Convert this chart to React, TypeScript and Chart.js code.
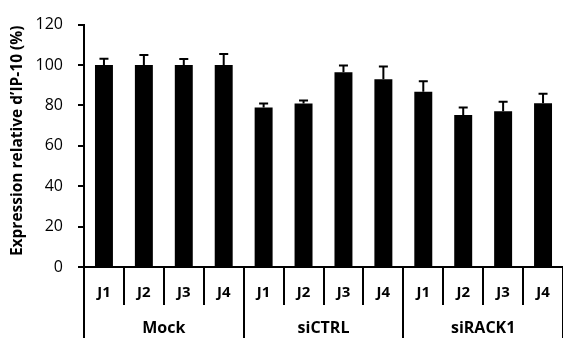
import React, { useEffect, useRef } from "react";
import { Chart, registerables } from "chart.js";

Chart.register(...registerables);

const categories = ["J1", "J2", "J3", "J4", "J1", "J2", "J3", "J4", "J1", "J2", "J3", "J4"];
const groups = ["Mock", "siCTRL", "siRACK1"];
const groupSize = 4;
const values = [100, 100, 100, 100, 79, 81, 96.4, 92.9, 86.7, 75.3, 77.1, 81.1];
const errors = [3.1, 5, 3, 5.5, 2, 1.4, 3.4, 6.4, 5.3, 3.6, 4.7, 4.7];
const yMin = 0;
const yMax = 120;
const yStep = 20;
const yTitle = "Expression relative d\u2019IP-10 (%)";

const FONT = "'Open Sans', 'Liberation Sans', sans-serif";

const overlayPlugin = {
  id: "overlay",
  afterDraw(chart: any) {
    const ctx = chart.ctx as CanvasRenderingContext2D;
    const xs = chart.scales.x;
    const ys = chart.scales.y;
    const area = chart.chartArea;
    ctx.save();
    // error bars
    ctx.strokeStyle = "#000";
    ctx.lineWidth = 2;
    values.forEach((v, i) => {
      const px = xs.getPixelForValue(i);
      const yb = ys.getPixelForValue(v);
      const yt = ys.getPixelForValue(v + errors[i]);
      ctx.beginPath();
      ctx.moveTo(px, yb);
      ctx.lineTo(px, yt);
      ctx.moveTo(px - 4.5, yt);
      ctx.lineTo(px + 4.5, yt);
      ctx.stroke();
    });
    // separators
    const step = xs.getPixelForValue(1) - xs.getPixelForValue(0);
    for (let k = 0; k <= categories.length; k++) {
      const bx = Math.round(xs.getPixelForValue(k) - step / 2);
      const bottom = k % groupSize === 0 ? chart.height : area.bottom + 38;
      ctx.beginPath();
      ctx.moveTo(bx, area.bottom);
      ctx.lineTo(bx, bottom);
      ctx.stroke();
    }
    // category labels
    ctx.fillStyle = "#000";
    ctx.textAlign = "center";
    ctx.textBaseline = "middle";
    ctx.font = `bold 15px ${FONT}`;
    categories.forEach((c, i) => {
      ctx.fillText(c, xs.getPixelForValue(i), area.bottom + 26);
    });
    ctx.font = `bold 16px ${FONT}`;
    groups.forEach((g, gi) => {
      const a = xs.getPixelForValue(gi * groupSize);
      const b = xs.getPixelForValue(gi * groupSize + groupSize - 1);
      ctx.fillText(g, (a + b) / 2, area.bottom + 61);
    });
    // y title
    ctx.translate(18, (area.top + area.bottom) / 2 - 5);
    ctx.rotate(-Math.PI / 2);
    ctx.font = `bold 15.5px ${FONT}`;
    ctx.fillText(yTitle, 0, 0);
    ctx.restore();
  },
};

export default function App() {
  const ref = useRef<HTMLCanvasElement | null>(null);
  useEffect(() => {
    if (!ref.current) return;
    const chart = new Chart(ref.current, {
      type: "bar",
      data: {
        labels: categories.map((c, i) => c + i),
        datasets: [
          {
            data: values,
            backgroundColor: "#000",
            borderWidth: 0,
            barPercentage: 0.45,
            categoryPercentage: 1,
          },
        ],
      },
      options: {
        animation: false,
        responsive: false,
        devicePixelRatio: 1,
        layout: { padding: { top: 18, right: 0, bottom: 0, left: 0 } },
        plugins: { legend: { display: false }, tooltip: { enabled: false } },
        scales: {
          x: {
            grid: { display: false },
            ticks: { display: false },
            border: { display: true, color: "#000", width: 2 },
            afterFit(scale: any) {
              scale.height = 71;
            },
          },
          y: {
            min: yMin,
            max: yMax,
            ticks: {
              stepSize: yStep,
              color: "#000",
              padding: 15,
              font: { family: FONT, size: 16 },
            },
            grid: { drawOnChartArea: false, tickLength: 6, color: "#000", lineWidth: 2 },
            border: { display: true, color: "#000", width: 2 },
            afterFit(scale: any) {
              scale.width = 84;
            },
          },
        },
      },
      plugins: [overlayPlugin],
    });
    return () => chart.destroy();
  }, []);
  return (
    <div style={{ position: "absolute", left: 0, top: 0, width: 563, height: 338, background: "#fff" }}>
      <canvas ref={ref} width={563} height={338} />
    </div>
  );
}
